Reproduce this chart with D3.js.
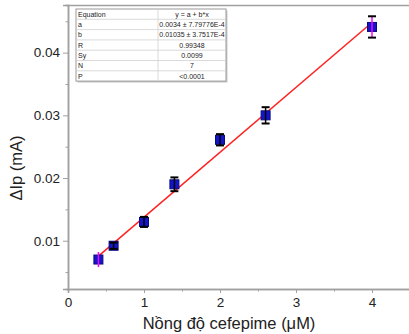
<!DOCTYPE html>
<html><head><meta charset="utf-8">
<script src="https://cdn.jsdelivr.net/npm/d3@7"></script>
<style>body{margin:0;background:#fff;}svg{display:block;font-family:"Liberation Sans",Arial,sans-serif;}</style>
</head><body><svg id="c" width="409" height="334"></svg>
<script>
const xValues = [0.4, 0.6, 1.0, 1.4, 2.0, 2.6, 4.0];
const yValues = [0.0070, 0.0092, 0.0130, 0.0190, 0.0261, 0.0300, 0.0441];
const yErrors = [0.0012, 0.0005, 0.0008, 0.0011, 0.0009, 0.0013, 0.0017];
const fitA = 0.0034, fitB = 0.01035;
const xTicks = [0, 1, 2, 3, 4];
const yTicks = [0.01, 0.02, 0.03, 0.04];
const tableKeys = ["Equation", "a", "b", "R", "Sy", "N", "P"];
const tableVals = ["y = a + b*x", "0.0034 \u00b1 7.79776E-4", "0.01035 \u00b1 3.7517E-4", "0.99348", "0.0099", "7", "<0.0001"];

const svg = d3.select("#c");
const L = 68, R = 410, T = 5, B = 289;
const x = d3.scaleLinear().domain([0, 4.5]).range([L, R]);
const y = d3.scaleLinear().domain([0.0023, 0.0476]).range([B, T]);
const axisCol = "#a0a0a0";

// top border
svg.append("line").attr("x1", L).attr("x2", R).attr("y1", T + 0.5).attr("y2", T + 0.5).attr("stroke", axisCol).attr("stroke-width", 1.5);

// x axis
const gx = svg.append("g").attr("transform", `translate(0,${B})`);
gx.call(d3.axisBottom(x).tickValues(xTicks).tickFormat(d3.format("d")).tickSize(4).tickPadding(4));
gx.append("g").call(d3.axisBottom(x).tickValues([0.5, 1.5, 2.5, 3.5]).tickFormat("").tickSize(2.5));
gx.selectAll(".domain").attr("stroke", axisCol).attr("stroke-width", 1.5);
gx.selectAll("line").attr("stroke", axisCol);
gx.selectAll("text").attr("fill", "#222").style("font-size", "13.5px");

// y axis
const gy = svg.append("g").attr("transform", `translate(${L},0)`);
gy.call(d3.axisLeft(y).tickValues(yTicks).tickFormat(d3.format(".2f")).tickSize(5).tickPadding(3));
gy.append("g").call(d3.axisLeft(y).tickValues([0.005, 0.015, 0.025, 0.035, 0.045]).tickFormat("").tickSize(2.5));
gy.selectAll(".domain").attr("stroke", axisCol).attr("stroke-width", 1.5);
gy.selectAll("line").attr("stroke", axisCol);
gy.selectAll("text").attr("fill", "#222").style("font-size", "13.5px");

// axis titles
svg.append("text").attr("x", (L + 390) / 2).attr("y", 329).attr("text-anchor", "middle")
  .style("font-size", "16.5px").attr("fill", "#222").text("Nồng độ cefepime (μM)");
svg.append("text").attr("transform", `translate(22,${(T + B) / 2 + 21}) rotate(-90)`).attr("text-anchor", "middle")
  .style("font-size", "16.5px").attr("fill", "#222").text("ΔIp (mA)");

// fit line
svg.append("line").attr("x1", x(0.4)).attr("y1", y(fitA + fitB * 0.4))
  .attr("x2", x(4.0)).attr("y2", y(fitA + fitB * 4.0))
  .attr("stroke", "#ff2020").attr("stroke-width", 1.5);

// points
const pts = svg.append("g");
xValues.forEach((xv, i) => {
  const cx = x(xv), cy = y(yValues[i]);
  pts.append("rect").attr("x", cx - 4.5).attr("y", cy - 4.5).attr("width", 9).attr("height", 9)
    .attr("fill", "#1414c8").attr("stroke", "#0a0a80").attr("stroke-width", 1);
});
// error bars
const eb = svg.append("g");
xValues.forEach((xv, i) => {
  const cx = x(xv), y1 = y(yValues[i] + yErrors[i]), y2 = y(yValues[i] - yErrors[i]);
  const magenta = (i === 0 || i === 6);
  eb.append("line").attr("x1", cx).attr("x2", cx).attr("y1", y1).attr("y2", y2)
    .attr("stroke", magenta ? "#ff00ff" : "#000").attr("stroke-width", 1.5);
  if (i !== 0) {
    [y1, y2].forEach(yy => eb.append("line").attr("x1", cx - 4).attr("x2", cx + 4).attr("y1", yy).attr("y2", yy)
      .attr("stroke", "#000").attr("stroke-width", 2));
  }
});

// table
const tx = 76, ty = 9, tw = 150, rh = 10.3, c1 = 82;
const tg = svg.append("g");
tg.append("rect").attr("x", tx + 1.5).attr("y", ty + 1.5).attr("width", tw).attr("height", rh * 7).attr("fill", "#ccc");
tg.append("rect").attr("x", tx).attr("y", ty).attr("width", tw).attr("height", rh * 7).attr("fill", "#fff").attr("stroke", "#999").attr("stroke-width", 1);
tableKeys.forEach((k, i) => {
  if (i > 0) tg.append("line").attr("x1", tx).attr("x2", tx + tw).attr("y1", ty + rh * i).attr("y2", ty + rh * i).attr("stroke", "#d0d0d0").attr("stroke-width", 0.8);
  tg.append("text").attr("x", tx + 2).attr("y", ty + rh * i + 7.8).style("font-size", "7px").attr("fill", "#222").text(k);
  tg.append("text").attr("x", tx + c1 + (tw - c1) / 2).attr("y", ty + rh * i + 7.8).attr("text-anchor", "middle").style("font-size", "7px").attr("fill", "#222").text(tableVals[i]);
});
tg.append("line").attr("x1", tx + c1).attr("x2", tx + c1).attr("y1", ty).attr("y2", ty + rh * 7).attr("stroke", "#d0d0d0").attr("stroke-width", 0.8);
</script></body></html>
